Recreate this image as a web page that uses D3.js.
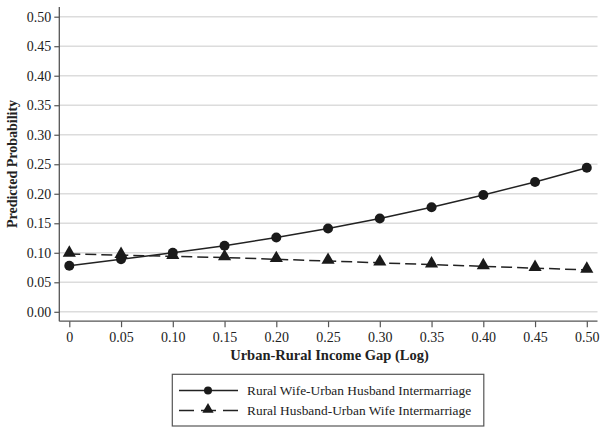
<!DOCTYPE html>
<html><head><meta charset="utf-8">
<script src="https://cdn.jsdelivr.net/npm/d3@7"></script>
<style>body{margin:0;background:#fff;} svg{display:block;}</style>
</head><body>
<svg id="c" width="606" height="434"></svg>
<script>
const xValues = [0, 0.05, 0.10, 0.15, 0.20, 0.25, 0.30, 0.35, 0.40, 0.45, 0.50];
const wifeRural = [0.078, 0.089, 0.100, 0.112, 0.126, 0.141, 0.158, 0.177, 0.198, 0.220, 0.244];
const husbandRural = [0.098, 0.096, 0.094, 0.092, 0.089, 0.086, 0.083, 0.080, 0.077, 0.074, 0.071];
const xTickLabels = ["0", "0.05", "0.10", "0.15", "0.20", "0.25", "0.30", "0.35", "0.40", "0.45", "0.50"];
const yTicks = [0, 0.05, 0.10, 0.15, 0.20, 0.25, 0.30, 0.35, 0.40, 0.45, 0.50];
const seriesNames = ["Rural Wife-Urban Husband Intermarriage", "Rural Husband-Urban Wife Intermarriage"];

const svg = d3.select("#c");
const font = "'Liberation Serif','Times New Roman',serif";
const x = d3.scaleLinear().domain([0, 0.5]).range([69.3, 586.8]);
const y = d3.scaleLinear().domain([0, 0.5]).range([311.8, 16.7]);
const axisX0 = 59.3, axisY0 = 321.2, rightEnd = 597.5, topEnd = 7;

// grid
svg.append("g").selectAll("line").data(yTicks).join("line")
  .attr("x1", axisX0).attr("x2", rightEnd)
  .attr("y1", d => y(d)).attr("y2", d => y(d))
  .attr("stroke", "#dcdcdc").attr("stroke-width", 1.5);

// y axis
const yAxis = svg.append("g").attr("transform", `translate(${axisX0},0)`)
  .call(d3.axisLeft(y).tickValues(yTicks).tickFormat(d3.format(".2f")).tickSize(5).tickSizeOuter(0));
yAxis.select(".domain").attr("d", `M0,${topEnd}V${axisY0}`);
// x axis
const xAxis = svg.append("g").attr("transform", `translate(0,${axisY0})`)
  .call(d3.axisBottom(x).tickValues(xValues).tickFormat((d, i) => xTickLabels[i]).tickSize(6).tickSizeOuter(0));
xAxis.select(".domain").attr("d", `M${axisX0},0H${rightEnd}`);
[yAxis, xAxis].forEach(g => {
  g.selectAll(".domain").attr("stroke", "#555").attr("stroke-width", 1.3);
  g.selectAll(".tick line").attr("stroke", "#555").attr("stroke-width", 1.2);
  g.selectAll("text").attr("font-family", font).attr("font-size", 14).attr("fill", "#222");
});
yAxis.selectAll("text").attr("x", -8);
xAxis.selectAll("text").attr("y", 11);

// titles
svg.append("text").attr("transform", "translate(17,164) rotate(-90)")
  .attr("text-anchor", "middle").attr("font-family", font).attr("font-weight", "bold")
  .attr("font-size", 14).attr("fill", "#222").text("Predicted Probability");
svg.append("text").attr("x", 329.5).attr("y", 360)
  .attr("text-anchor", "middle").attr("font-family", font).attr("font-weight", "bold")
  .attr("font-size", 14.5).attr("fill", "#222").text("Urban-Rural Income Gap (Log)");

const line = d3.line().x((d, i) => x(xValues[i])).y(d => y(d));
svg.append("path").datum(husbandRural).attr("d", line).attr("fill", "none")
  .attr("stroke", "#222").attr("stroke-width", 1.5).attr("stroke-dasharray", "11,5");
svg.append("path").datum(wifeRural).attr("d", line).attr("fill", "none")
  .attr("stroke", "#222").attr("stroke-width", 1.5);

const tri = d3.symbol().type(d3.symbolTriangle).size(75);
svg.append("g").selectAll("path").data(husbandRural).join("path")
  .attr("d", tri).attr("transform", (d, i) => `translate(${x(xValues[i])},${y(d) - 1})`)
  .attr("fill", "#1a1a1a");
svg.append("g").selectAll("circle").data(wifeRural).join("circle")
  .attr("cx", (d, i) => x(xValues[i])).attr("cy", d => y(d)).attr("r", 5)
  .attr("fill", "#1a1a1a");

// legend
const lg = svg.append("g");
lg.append("rect").attr("x", 172.3).attr("y", 374.3).attr("width", 311.5).attr("height", 51.7)
  .attr("fill", "#fff").attr("stroke", "#555").attr("stroke-width", 1.2);
const rows = [390.5, 410.5];
lg.append("line").attr("x1", 179).attr("x2", 238).attr("y1", rows[0]).attr("y2", rows[0])
  .attr("stroke", "#222").attr("stroke-width", 1.5);
lg.append("circle").attr("cx", 208).attr("cy", rows[0]).attr("r", 4).attr("fill", "#1a1a1a");
lg.append("line").attr("x1", 179).attr("x2", 238).attr("y1", rows[1]).attr("y2", rows[1])
  .attr("stroke", "#222").attr("stroke-width", 1.5).attr("stroke-dasharray", "15,7");
lg.append("path").attr("d", d3.symbol().type(d3.symbolTriangle).size(55))
  .attr("transform", `translate(208,${rows[1] - 1})`).attr("fill", "#1a1a1a");
lg.selectAll("text").data(seriesNames).join("text")
  .attr("x", 247).attr("y", (d, i) => rows[i] + 4.5)
  .attr("font-family", font).attr("font-size", 13.4).attr("fill", "#222").text(d => d);
</script>
</body></html>
